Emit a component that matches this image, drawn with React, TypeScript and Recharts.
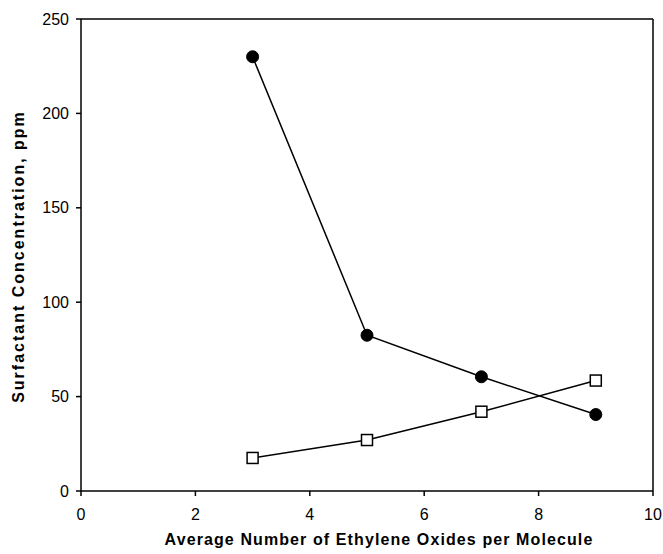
import { LineChart, Line, XAxis, YAxis, ReferenceLine } from 'recharts';

const eoCounts = [3, 5, 7, 9];
const filledSeries = [230, 82.5, 60.5, 40.5];
const openSeries = [17.5, 27, 42, 58.5];
const xTicks = [0, 2, 4, 6, 8, 10];
const yTicks = [0, 50, 100, 150, 200, 250];

const data = eoCounts.map((x, i) => ({ x, filled: filledSeries[i], open: openSeries[i] }));

const font = '"Liberation Sans", Arial, sans-serif';

function CircleDot(props: any) {
  const { cx, cy } = props;
  if (cx == null || cy == null) return null;
  return <circle cx={cx} cy={cy} r={6} fill="#000" stroke="#000" />;
}

function SquareDot(props: any) {
  const { cx, cy } = props;
  if (cx == null || cy == null) return null;
  return <rect x={cx - 5.5} y={cy - 5.5} width={11} height={11} fill="#fff" stroke="#000" strokeWidth={1.5} />;
}

export default function App() {
  return (
    <div style={{ position: 'absolute', left: 0, top: 0, background: '#fff', fontFamily: font }}>
      <LineChart width={663} height={554} data={data} margin={{ top: 19, right: 10, bottom: 0, left: 0 }}>
        <XAxis
          dataKey="x"
          type="number"
          domain={[0, 10]}
          ticks={xTicks}
          height={63}
          stroke="#000"
          strokeWidth={1.5}
          tickSize={5}
          tickMargin={13}
          tick={{ fill: '#000', fontSize: 16, fontFamily: font }}
          label={{ value: 'Average Number of Ethylene Oxides per Molecule', position: 'insideBottom', offset: 9, dx: 12, fill: '#000', fontSize: 16, fontWeight: 'bold', fontFamily: font, letterSpacing: 1.1 }}
        />
        <YAxis
          type="number"
          domain={[0, 250]}
          ticks={yTicks}
          width={81}
          stroke="#000"
          strokeWidth={1.5}
          tickSize={5}
          tickMargin={7}
          tick={{ fill: '#000', fontSize: 16, fontFamily: font }}
          label={{ value: 'Surfactant Concentration, ppm', angle: -90, position: 'center', dx: -22.5, dy: 1.5, fill: '#000', fontSize: 16, fontWeight: 'bold', fontFamily: font, letterSpacing: 2 }}
        />
        <ReferenceLine y={250} stroke="#000" strokeWidth={1.5} />
        <ReferenceLine x={10} stroke="#000" strokeWidth={1.5} />
        <Line dataKey="filled" stroke="#000" strokeWidth={1.5} dot={<CircleDot />} isAnimationActive={false} />
        <Line dataKey="open" stroke="#000" strokeWidth={1.5} dot={<SquareDot />} isAnimationActive={false} />
      </LineChart>
    </div>
  );
}
